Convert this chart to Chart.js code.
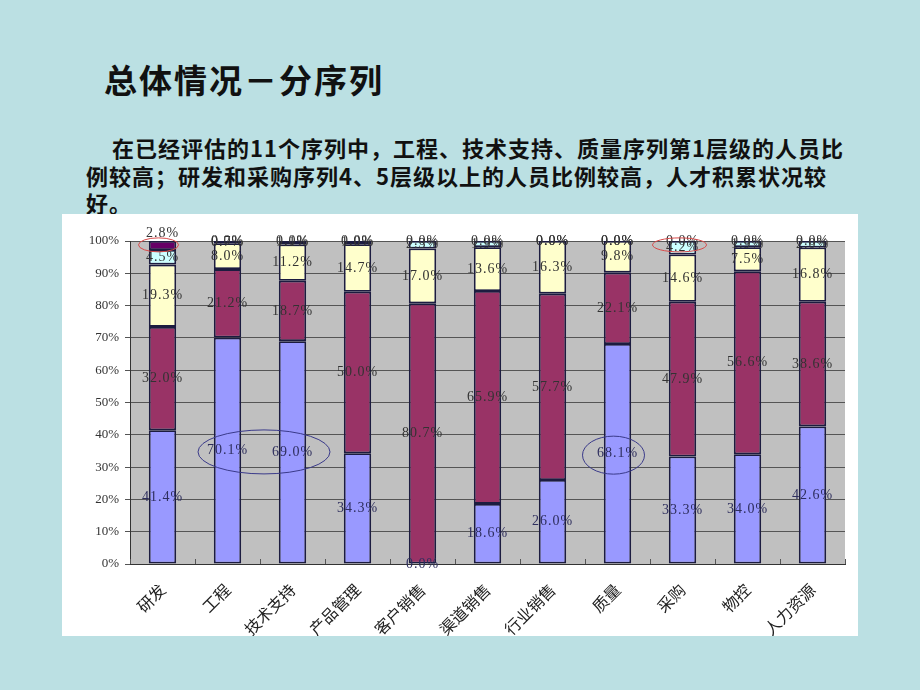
<!DOCTYPE html>
<html><head><meta charset="utf-8">
<script src="https://cdn.jsdelivr.net/npm/chart.js@4"></script>
<style>
html,body{margin:0;padding:0;}
body{width:920px;height:690px;background:#BBE0E3;position:relative;overflow:hidden;font-family:"Noto Sans CJK SC",sans-serif;}
#title{position:absolute;left:104px;top:57px;font-size:33px;font-weight:700;letter-spacing:2px;line-height:44px;color:#111;white-space:nowrap;}
.ln{position:absolute;font-size:22px;font-weight:700;letter-spacing:1px;line-height:28px;color:#111;white-space:nowrap;}
#box{position:absolute;left:62px;top:214px;width:796px;height:422px;background:#fff;}
</style></head>
<body>
<div id="title">总体情况－分序列</div>
<div class="ln" style="left:112px;top:133px;">在已经评估的11个序列中，工程、技术支持、质量序列第1层级的人员比</div>
<div class="ln" style="left:86px;top:161px;">例较高；研发和采购序列4、5层级以上的人员比例较高，人才积累状况较</div>
<div class="ln" style="left:86px;top:188px;">好。</div>
<div id="box"><canvas id="c" width="796" height="422"></canvas></div>
<script>
const categories = ['研发','工程','技术支持','产品管理','客户销售','渠道销售','行业销售','质量','采购','物控','人力资源'];
const level1 = [41.4, 70.1, 69.0, 34.3, 0.0, 18.6, 26.0, 68.1, 33.3, 34.0, 42.6];
const level2 = [32.0, 21.2, 18.7, 50.0, 80.7, 65.9, 57.7, 22.1, 47.9, 56.6, 38.6];
const level3 = [19.3, 8.0, 11.2, 14.7, 17.0, 13.6, 16.3, 9.8, 14.6, 7.5, 16.8];
const level4 = [4.5, 0.7, 1.1, 1.0, 2.3, 1.9, 0.0, 0.0, 4.2, 1.9, 2.0];
const level5 = [2.8, 0.0, 0.0, 0.0, 0.0, 0.0, 0.0, 0.0, 0.0, 0.0, 0.0];
const yTicks = [0,10,20,30,40,50,60,70,80,90,100];
// highlight ellipses: category range and value of centre
const highlights = [
  {from:0, to:0, value:98.8},
  {from:1, to:2, value:34.7},
  {from:7, to:7, value:33.7},
  {from:8, to:8, value:98.8}
];
const hlStyle = [
  {dx:-4, rx:20, ry:7, color:'#d84a4a'},
  {dx:4, rx:66, ry:22, color:'#3a3a8a'},
  {dx:-4, rx:31, ry:19, color:'#3a3a8a'},
  {dx:-3, rx:27, ry:7, color:'#d84a4a'}
];

const colors = ['#9999FF','#993366','#FFFFCC','#CCFFFF','#660066'];
const series = [level1, level2, level3, level4, level5];
const labelColors = ['#2e2e5e','#333333','#333333','#333333','#333333'];

const bgPlugin = {
  id:'bg',
  beforeDraw(chart){
    const a = chart.chartArea, ctx = chart.ctx;
    ctx.save(); ctx.fillStyle='#C0C0C0';
    ctx.fillRect(a.left, a.top, a.right-a.left, a.bottom-a.top);
    ctx.restore();
  },
  afterDatasetsDraw(chart){
    const ctx = chart.ctx, a = chart.chartArea, xs = chart.scales.x, ys = chart.scales.y;
    ctx.save(); ctx.strokeStyle='#555'; ctx.lineWidth=1;
    for(let i=0;i<=categories.length;i++){
      const x = Math.round(xs.getPixelForValue(i-0.5))+0.5;
      ctx.beginPath(); ctx.moveTo(x, a.bottom); ctx.lineTo(x, a.bottom-5); ctx.stroke();
    }
    ctx.restore();
    ctx.save();
    ctx.font = '14px "Liberation Serif", serif';
    ctx.textAlign='center'; ctx.textBaseline='middle';
    if ('letterSpacing' in ctx) ctx.letterSpacing='1px';
    chart.data.datasets.forEach((ds, di)=>{
      const meta = chart.getDatasetMeta(di);
      meta.data.forEach((el, i)=>{
        const v = ds.data[i];
        let y = (el.y + el.base)/2;
        if (di===4 && v>0) y = el.y - 8;
        ctx.fillStyle = labelColors[di];
        ctx.fillText(v.toFixed(1)+'%', el.x, y);
      });
    });
    ctx.restore();
    ctx.save(); ctx.lineWidth=1;
    highlights.forEach((h, k)=>{
      const s = hlStyle[k];
      const cx = (xs.getPixelForValue(h.from)+xs.getPixelForValue(h.to))/2 + s.dx;
      const cy = ys.getPixelForValue(h.value);
      ctx.strokeStyle = s.color;
      ctx.beginPath(); ctx.ellipse(cx, cy, s.rx, s.ry, 0, 0, Math.PI*2); ctx.stroke();
    });
    ctx.restore();
  }
};

new Chart(document.getElementById('c'), {
  type:'bar',
  data:{
    labels: categories,
    datasets: series.map((d,i)=>({
      label:'第'+(i+1)+'层级', data:d, backgroundColor:colors[i],
      borderColor:'#1c1c40', borderWidth:1.8, borderSkipped:false,
      barPercentage:0.42, categoryPercentage:1.0
    }))
  },
  options:{
    responsive:false, animation:false, devicePixelRatio:1,
    layout:{padding:{top:27,right:13,left:0,bottom:0}},
    plugins:{legend:{display:false}, tooltip:{enabled:false}},
    scales:{
      x:{
        stacked:true,
        grid:{display:false},
        border:{display:true,color:'#333',width:1},
        ticks:{color:'#222', font:{family:'"Noto Sans CJK SC"', size:16}, maxRotation:45, minRotation:45, padding:8, autoSkip:false},
        afterFit(s){ s.height = 72; }
      },
      y:{
        stacked:true, min:0, max:100,
        afterBuildTicks(s){ s.ticks = yTicks.map(v=>({value:v})); },
        ticks:{color:'#333', font:{family:'"Liberation Serif"', size:13}, padding:6, callback:v=>v+'%'},
        grid:{color:'#555', lineWidth:1, tickLength:5, drawTicks:true},
        border:{display:true,color:'#333',width:1},
        afterFit(s){ s.width = 68; }
      }
    }
  },
  plugins:[bgPlugin]
});
</script>
</body></html>
